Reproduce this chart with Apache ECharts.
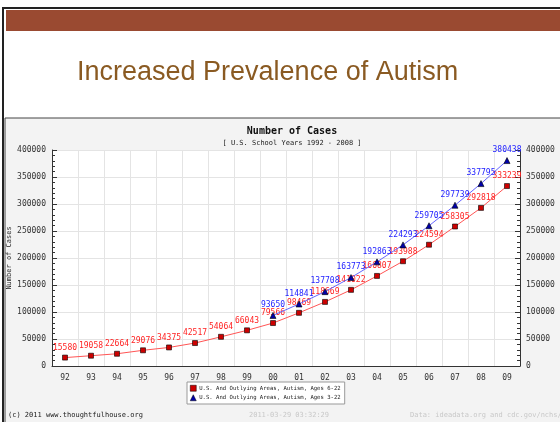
<!DOCTYPE html>
<html>
<head>
<meta charset="UTF-8">
<script src="https://cdn.jsdelivr.net/npm/echarts@6/dist/echarts.min.js"></script>
<title>Increased Prevalence of Autism</title>
<style>
  html, body { margin: 0; padding: 0; background: #fff; }
  #box { width: 560px; height: 422px; }
</style>
</head>
<body>
<div id="box"></div>
<script>
// school years 1992 - 2009
var years = ['92', '93', '94', '95', '96', '97', '98', '99', '00', '01', '02', '03', '04', '05', '06', '07', '08', '09'];
// Ages 6-22
var ages6to22 = [15580, 19058, 22664, 29076, 34375, 42517, 54064, 66043, 79566, 98469, 118669, 141022, 166807, 193988, 224594, 258305, 292818, 333239];
// Ages 3-22 (from 2000 on)
var ages3to22 = [null, null, null, null, null, null, null, null, 93650, 114841, 137708, 163773, 192863, 224293, 259705, 297739, 337795, 380438];
var yTicks = [0, 50000, 100000, 150000, 200000, 250000, 300000, 350000, 400000];

var name1 = 'U.S. And Outlying Areas, Autism, Ages 6-22';
var name2 = 'U.S. And Outlying Areas, Autism, Ages 3-22';
var mono = 'DejaVu Sans Mono';

var chart = echarts.init(document.getElementById('box'));

function yAxisOpt(pos) {
  return {
    type: 'value',
    position: pos,
    min: yTicks[0],
    max: yTicks[yTicks.length - 1],
    interval: 50000,
    axisLine: { show: true, lineStyle: { color: '#333', width: 1 } },
    axisTick: { show: true, inside: true, length: 5, lineStyle: { color: '#333' } },
    minorTick: { show: true, splitNumber: 5, length: 3, lineStyle: { color: '#333' } },
    splitLine: { show: pos === 'left', lineStyle: { color: '#e4e4e4' } },
    axisLabel: { color: '#333', fontFamily: mono, fontSize: 8, margin: 6,
      formatter: function (v) { return String(v); } }
  };
}

var option = {
  animation: false,
  backgroundColor: '#fff',
  graphic: [
    // slide frame
    { type: 'rect', shape: { x: 3, y: 8, width: 560, height: 420 }, style: { fill: '#fff', stroke: '#222', lineWidth: 2 }, z: -10 },
    { type: 'rect', shape: { x: 6, y: 10, width: 556, height: 21 }, style: { fill: '#9a4a31' }, z: -9 },
    // chart image background
    { type: 'rect', shape: { x: 5, y: 118, width: 556, height: 306 }, style: { fill: '#f3f3f3', stroke: '#444', lineWidth: 1 }, z: -8 },
    // y axis title
    { type: 'text', x: 9, y: 258, rotation: Math.PI / 2, z: 5,
      style: { text: 'Number of Cases', font: '7px "DejaVu Sans Mono"', fill: '#222', align: 'center', verticalAlign: 'middle' } }
  ],
  title: [
    { text: 'Increased Prevalence of Autism', left: 72, top: 54,
      textStyle: { fontFamily: 'Liberation Sans', fontWeight: 'normal', fontSize: 27, color: '#8a5a22' } },
    { text: 'Number of Cases', left: 287, top: 121, textAlign: 'center',
      textStyle: { fontFamily: mono, fontWeight: 'bold', fontSize: 10, color: '#111' } },
    { text: '[ U.S. School Years 1992 - 2008 ]', left: 287, top: 135, textAlign: 'center',
      textStyle: { fontFamily: mono, fontWeight: 'normal', fontSize: 7, color: '#222' } },
    { text: '(c) 2011 www.thoughtfulhouse.org', left: 3, top: 407,
      textStyle: { fontFamily: mono, fontWeight: 'normal', fontSize: 7, color: '#222' } },
    { text: '2011-03-29 03:32:29', left: 284, top: 407, textAlign: 'center',
      textStyle: { fontFamily: mono, fontWeight: 'normal', fontSize: 7, color: '#c8c8c8' } },
    { text: 'Data: ideadata.org and cdc.gov/nchs/', left: 405, top: 407,
      textStyle: { fontFamily: mono, fontWeight: 'normal', fontSize: 7, color: '#c8c8c8' } }
  ],
  legend: {
    orient: 'vertical',
    left: 187,
    top: 382,
    backgroundColor: '#fff',
    borderColor: '#999',
    borderWidth: 1,
    padding: [3, 4, 3, 3],
    itemGap: 3,
    itemWidth: 6,
    itemHeight: 6,
    textStyle: { fontFamily: mono, fontSize: 5.6, color: '#222', padding: [0, 0, 0, -2] },
    data: [
      { name: name1, icon: 'rect', itemStyle: { color: '#cc0000', borderColor: '#000', borderWidth: 0.5 } },
      { name: name2, icon: 'triangle', itemStyle: { color: '#0000aa', borderColor: '#000', borderWidth: 0.5 } }
    ]
  },
  grid: {
    left: 52, right: 40, top: 150, bottom: 56,
    outerBoundsMode: 'none',
    show: true, backgroundColor: '#fff', borderWidth: 0
  },
  xAxis: {
    type: 'category',
    data: years,
    boundaryGap: true,
    axisLine: { lineStyle: { color: '#333' } },
    axisTick: { show: false },
    splitLine: { show: true, interval: 0, lineStyle: { color: '#e4e4e4' } },
    axisLabel: { interval: 0, color: '#333', fontFamily: mono, fontSize: 8, margin: 8 }
  },
  yAxis: [yAxisOpt('left'), yAxisOpt('right')],
  series: [
    {
      name: name1,
      type: 'line',
      data: ages6to22,
      symbol: 'rect',
      symbolSize: 5,
      itemStyle: { color: '#cc0000', borderColor: '#000', borderWidth: 0.6 },
      lineStyle: { color: '#ff5555', width: 1 },
      label: { show: true, position: 'top', distance: 3, color: '#ff2222', fontFamily: mono, fontSize: 8 },
      z: 3
    },
    {
      name: name2,
      type: 'line',
      data: ages3to22,
      symbol: 'triangle',
      symbolSize: 6,
      itemStyle: { color: '#0000aa', borderColor: '#000', borderWidth: 0.6 },
      lineStyle: { color: '#6666ff', width: 1 },
      label: { show: true, position: 'top', distance: 3, color: '#2222ff', fontFamily: mono, fontSize: 8 },
      z: 4
    }
  ]
};

chart.setOption(option);
</script>
</body>
</html>
